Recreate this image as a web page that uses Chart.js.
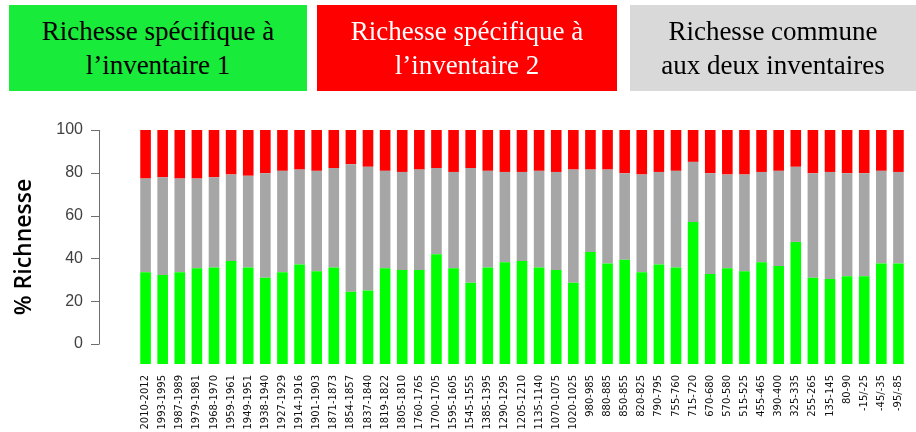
<!DOCTYPE html>
<html>
<head>
<meta charset="utf-8">
<script src="https://cdn.jsdelivr.net/npm/chart.js@4.4.0/dist/chart.umd.min.js"></script>
<style>
    body { margin: 0; background: #ffffff; }
    #wrap { position: relative; width: 916px; height: 432px; overflow: hidden; }
    #chart { position: absolute; left: 0; top: 0; }
    .key {
        position: absolute; top: 5px; height: 86px;
        display: flex; align-items: center; justify-content: center;
        text-align: center; font-family: 'Liberation Serif', serif;
        font-size: 27px; line-height: 34px;
    }
</style>
</head>
<body>
<div id="wrap">
    <canvas id="chart" width="916" height="432"></canvas>
    <div class="key" style="left:9px; width:298px; background:#19eb3b; color:#000;">Richesse spécifique à<br>l’inventaire 1</div>
    <div class="key" style="left:317px; width:300px; background:#ff0000; color:#fff;">Richesse spécifique à<br>l’inventaire 2</div>
    <div class="key" style="left:630px; width:286px; background:#d9d9d9; color:#000;">Richesse commune<br>aux deux inventaires</div>
</div>
<script>
// periods (x axis)
const periods = [
    '2010-2012', '1993-1995', '1987-1989', '1979-1981', '1968-1970', '1959-1961', '1949-1951', '1938-1940',
    '1927-1929', '1914-1916', '1901-1903', '1871-1873', '1854-1857', '1837-1840', '1819-1822', '1805-1810',
    '1760-1765', '1700-1705', '1595-1605', '1545-1555', '1385-1395', '1290-1295', '1205-1210', '1135-1140',
    '1070-1075', '1020-1025', '980-985', '880-885', '850-855', '820-825', '790-795', '755-760',
    '715-720', '670-680', '570-580', '515-525', '455-465', '390-400', '325-335', '255-265',
    '135-145', '80-90', '-15/-25', '-45/-35', '-95/-85'
];

// % richness specific to inventory 1 (green)
const specifique1 = [
    33.5, 32.2, 33.5, 35.4, 35.8, 38.8, 35.8, 31.0, 33.5, 37.1, 34.0, 35.8, 24.4, 25.0, 35.4,
    34.6, 34.6, 41.9, 35.4, 28.6, 35.8, 38.2, 38.8, 35.8, 34.6, 28.6, 43.0, 37.6, 39.4, 33.5,
    37.1, 35.8, 57.0, 32.7, 35.4, 34.0, 38.2, 36.5, 47.7, 31.0, 30.4, 31.6, 31.6, 37.6, 37.6
];

// % richness common to both inventories (grey)
const commune = [
    43.8, 45.7, 43.8, 41.9, 42.1, 40.4, 42.8, 48.8, 47.4, 44.4, 46.9, 46.4, 59.6, 57.8, 45.5,
    45.8, 46.9, 40.3, 45.0, 53.6, 45.1, 42.2, 41.6, 45.1, 45.8, 52.9, 38.5, 43.9, 40.4, 45.7,
    43.3, 45.1, 28.1, 47.1, 43.8, 45.2, 42.2, 44.4, 35.1, 48.8, 50.0, 48.2, 48.2, 43.3, 42.8
];

// % richness specific to inventory 2 (red)
const specifique2 = [
    22.7, 22.1, 22.7, 22.7, 22.1, 20.8, 21.4, 20.2, 19.1, 18.5, 19.1, 17.8, 16.0, 17.2, 19.1,
    19.6, 18.5, 17.8, 19.6, 17.8, 19.1, 19.6, 19.6, 19.1, 19.6, 18.5, 18.5, 18.5, 20.2, 20.8,
    19.6, 19.1, 14.9, 20.2, 20.8, 20.8, 19.6, 19.1, 17.2, 20.2, 19.6, 20.2, 20.2, 19.1, 19.6
];

const yTicks = [0, 20, 40, 60, 80, 100];
const Y_MIN = -9.35; // bars in the original run below the 0 tick

// axis line with tick marks, drawn only from 0 to 100 like the original
const axisLine = {
    id: 'axisLine',
    afterDraw(chart) {
        const y = chart.scales.y;
        const ctx = chart.ctx;
        const x = y.right - 38;
        ctx.save();
        ctx.strokeStyle = '#6e6e6e';
        ctx.lineWidth = 1;
        ctx.beginPath();
        ctx.moveTo(x + 0.5, y.getPixelForValue(0));
        ctx.lineTo(x + 0.5, y.getPixelForValue(100));
        yTicks.forEach(v => {
            const py = Math.round(y.getPixelForValue(v)) + 0.5;
            ctx.moveTo(x - 8, py);
            ctx.lineTo(x + 0.5, py);
        });
        ctx.stroke();
        ctx.restore();
    }
};

new Chart(document.getElementById('chart'), {
    type: 'bar',
    data: {
        labels: periods,
        datasets: [
            { label: 'Richesse spécifique à l’inventaire 1', data: specifique1, backgroundColor: '#00ff00', base: Y_MIN },
            { label: 'Richesse commune aux deux inventaires', data: commune, backgroundColor: '#a6a6a6' },
            { label: 'Richesse spécifique à l’inventaire 2', data: specifique2, backgroundColor: '#ff0000' }
        ]
    },
    options: {
        responsive: false,
        animation: false,
        layout: { padding: { top: 130, right: 9 } },
        datasets: {
            bar: { barPercentage: 0.62, categoryPercentage: 1.0, borderWidth: 0 }
        },
        plugins: {
            legend: { display: false },
            tooltip: { enabled: false }
        },
        scales: {
            x: {
                stacked: true,
                grid: { display: false },
                border: { display: false },
                ticks: {
                    autoSkip: false,
                    minRotation: 90,
                    maxRotation: 90,
                    padding: 3,
                    color: '#111',
                    font: { family: 'DejaVu Sans', size: 10 }
                },
                afterFit(scale) { scale.height = 68; }
            },
            y: {
                stacked: true,
                min: Y_MIN,
                max: 100,
                grid: { display: false },
                border: { display: false },
                afterBuildTicks(scale) {
                    scale.ticks = yTicks.map(v => ({ value: v }));
                },
                ticks: {
                    padding: 46,
                    color: '#404040',
                    font: { family: 'Arial', size: 16 }
                },
                title: {
                    display: true,
                    text: '% Richnesse',
                    color: '#000',
                    padding: { top: 11 },
                    font: { family: 'Open Sans', size: 23, weight: '600' }
                },
                afterFit(scale) { scale.width = 137; }
            }
        }
    },
    plugins: [axisLine]
});
</script>
</body>
</html>
